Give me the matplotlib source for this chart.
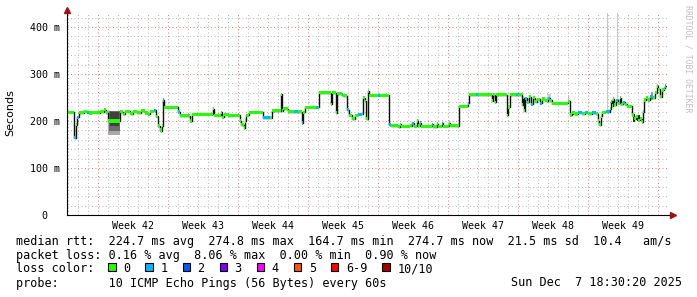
import numpy as np
import matplotlib
matplotlib.use('Agg')
import matplotlib.pyplot as plt
from matplotlib.patches import Rectangle

plt.rcParams['font.family'] = ['DejaVu Sans Mono']

W, H = 697, 297

# median rtt (ms), time in days since the left edge of the graph (60 days shown)
t_days = [0.0, 0.7, 0.9, 1.0, 1.2, 1.7, 2.0, 2.2, 2.5, 2.9, 3.3, 3.7, 3.9, 4.1, 5.3, 5.6, 5.8, 6.3,
          6.6, 7.0, 7.4, 7.8, 8.1, 8.3, 8.7, 8.9, 9.1, 9.3, 9.4, 9.5, 9.6, 9.7, 11.1, 11.3, 12.3,
          12.5, 14.6, 14.7, 15.4, 15.5, 15.7, 16.1, 16.5, 17.3, 17.4, 17.7, 17.8, 17.9, 18.2, 19.6,
          20.3, 20.5, 21.4, 21.5, 21.6, 22.1, 22.7, 23.1, 23.5, 23.6, 23.8, 24.9, 25.1, 25.2, 26.4,
          26.5, 26.9, 27.0, 27.5, 27.6, 28.0, 28.2, 28.5, 28.8, 29.1, 29.5, 29.6, 29.8, 29.9, 30.1,
          30.2, 31.1, 31.3, 32.2, 32.4, 33.1, 33.3, 33.4, 34.3, 34.5, 34.7, 35.0, 35.1, 35.3, 35.4,
          36.5, 36.6, 37.0, 37.1, 37.5, 37.6, 38.2, 38.3, 39.2, 40.1, 40.2, 40.9, 41.1, 42.5, 42.6,
          42.8, 42.9, 44.0, 44.1, 44.3, 44.9, 45.1, 45.5, 45.6, 45.7, 45.8, 46.0, 46.2, 46.4, 46.6,
          46.8, 47.0, 47.3, 47.5, 47.8, 48.1, 48.3, 48.5, 50.1, 50.3, 50.5, 50.8, 51.1, 51.5, 51.8,
          52.1, 52.5, 52.9, 53.1, 53.2, 53.4, 53.5, 53.9, 54.3, 54.4, 54.5, 54.6, 54.7, 54.9, 55.1,
          55.3, 55.4, 55.6, 55.8, 56.0, 56.5, 56.7, 56.9, 57.1, 57.3, 57.5, 57.6, 57.7, 57.9, 58.1,
          58.3, 58.6, 58.8, 59.0, 59.1, 59.3, 59.5, 59.7, 59.8]
median_ms = [219, 164.7, 192, 208, 218, 221, 219, 217, 219, 218, 220, 224, 218, 200, 220, 214, 221, 216,
             221, 218, 222, 217, 214, 221, 223, 210, 190, 181, 179, 190, 245, 229, 220, 211, 200,
             214, 226, 212, 219, 208, 214, 211, 212, 200, 192, 185, 200, 212, 219, 207,
             207, 222, 257, 222, 226, 220, 220, 220, 196, 219, 229, 229, 229, 260, 236,
             260, 218, 258, 256, 254, 224, 212, 205, 212, 214, 216, 250, 242, 205, 263,
             255, 255, 255, 192, 190, 188, 193, 189, 190, 195, 189, 200, 190, 196, 189,
             193, 188, 194, 189, 195, 189, 196, 190, 231, 238, 256, 256, 256, 243, 256,
             240, 256, 212, 230, 256, 256, 256, 235, 250, 222, 248, 240, 252, 236, 250,
             241, 246, 238, 247, 243, 248, 244, 238, 242, 213, 218, 215, 219, 216, 219,
             216, 218, 216, 200, 192, 210, 219, 220, 226, 242, 232, 247, 235, 244, 238,
             250, 236, 240, 236, 231, 213, 205, 210, 202, 205, 198, 220, 245, 250, 245,
             252, 250, 260, 274.8, 268, 252, 266, 270, 274.7]
loss = [0, 1, 0, 1, 0, 0, 1, 0, 0, 0, 0, 0, 0, 0, 0, 0, 0, 0,
        0, 0, 0, 0, 0, 0, 1, 0, 0, 0, 0, 0, 1, 0, 1, 0, 0,
        0, 0, 0, 0, 0, 0, 0, 0, 0, 0, 0, 0, 0, 0, 1,
        0, 0, 0, 0, 0, 0, 1, 0, 1, 0, 0, 1, 0, 0, 0,
        0, 0, 0, 1, 0, 1, 0, 0, 0, 1, 0, 0, 0, 0, 0,
        0, 1, 0, 1, 0, 0, 0, 0, 0, 1, 0, 0, 0, 1, 0,
        1, 0, 0, 0, 1, 0, 0, 0, 0, 1, 0, 1, 0, 0, 0,
        0, 0, 0, 0, 0, 1, 0, 0, 0, 0, 1, 0, 0, 1, 0,
        0, 0, 1, 0, 0, 1, 0, 0, 0, 0, 0, 0, 1, 0, 1,
        0, 1, 0, 0, 0, 0, 0, 1, 0, 0, 0, 0, 0, 1, 0,
        0, 0, 1, 0, 0, 0, 0, 0, 0, 0, 0, 0, 0, 0, 0,
        1, 0, 0, 0, 0, 0, 0, 0, 1]
t_end = 59.9

# smoke (spread of the pings), grey shade per band
smoke_t0 = [4.1, 4.15, 4.25, 54.0, 55.0, 30.1, 31.1, 35.1, 37.5, 45.5, 48.0, 50.1, 50.5, 56.6, 57.0, 58.4]
smoke_t1 = [5.3, 5.25, 5.15, 54.1, 55.1, 30.2, 31.2, 35.2, 37.6, 45.6, 48.4, 50.2, 50.7, 56.8, 57.3, 58.6]
smoke_lo = [170, 178, 190, 220, 238, 255, 255, 190, 189, 235, 238, 242, 213, 198, 200, 245]
smoke_hi = [222, 221, 219, 430, 430, 270, 264, 205, 202, 262, 258, 255, 222, 215, 212, 262]
smoke_grey = ['#a8a8a8', '#6c6c6c', '#404040', '#c8c8c8', '#c8c8c8', '#c0c0c0', '#c8c8c8',
              '#c0c0c0', '#c0c0c0', '#b8b8b8', '#d0d0d0', '#c0c0c0', '#505050', '#303030', '#303030',
              '#a0a0a0']

weeks = [42, 43, 44, 45, 46, 47, 48, 49]
first_week_start = 3.1  # day of the first week boundary

loss_labels = ['0', '1', '2', '3', '4', '5', '6-9', '10/10']
loss_colors = ['#26ff00', '#00b8ff', '#0059ff', '#7e00ff', '#ff00ff', '#ff5500', '#ff0000', '#a10000']

legend_lines = [
    'median rtt:  224.7 ms avg  274.8 ms max  164.7 ms min  274.7 ms now  21.5 ms sd  10.4   am/s',
    'packet loss: 0.16 % avg  8.06 % max  0.00 % min  0.90 % now',
    'loss color:',
    'probe:       10 ICMP Echo Pings (56 Bytes) every 60s',
]
stamp = 'Sun Dec  7 18:30:20 2025'


def fx(px):
    return px / W


def fy(py):
    return 1 - py / H


fig = plt.figure(figsize=(W / 100, H / 100), dpi=100)
fig.patch.set_facecolor('white')
ax = fig.add_axes([fx(67), fy(215), 600 / W, 202 / H])
ax.set_xlim(0, 60)
ax.set_ylim(0, 430)
for s in ax.spines.values():
    s.set_visible(False)

# grid (dotted, minor grey / major red)
dot = (0, (1, 2.5))
week_edges = [first_week_start + 7 * k for k in range(len(weeks) + 1)]
for d in np.arange(0.1, 60, 1.0):
    if min(abs(d - e) for e in week_edges) > 0.05:
        ax.axvline(d, color='#bcbcbc', lw=0.72, ls=dot, zorder=0)
for v in range(20, 430, 20):
    if v % 100:
        ax.axhline(v, color='#bcbcbc', lw=0.72, ls=dot, zorder=0)
for e in week_edges:
    ax.axvline(e, color='#e48080', lw=0.72, ls=dot, zorder=1)
for v in range(100, 430, 100):
    ax.axhline(v, color='#e48080', lw=0.72, ls=dot, zorder=1)

# smoke
for a, b, lo, hi, g in zip(smoke_t0, smoke_t1, smoke_lo, smoke_hi, smoke_grey):
    ax.fill_between([a, b], lo, hi, color=g, lw=0, zorder=2)

# median
edges = np.array(t_days + [t_end])
med = np.array(median_ms)
med_ext = np.append(med, med[-1])
ax.plot(edges, med_ext, drawstyle='steps-post', color='#101010', lw=1.0, zorder=3)
ax.fill_between(edges, med_ext - 3.4, med_ext + 3.4, step='post', color=loss_colors[0], lw=0, zorder=4)
for i, l in enumerate(loss):
    if l > 0:
        ax.fill_between([edges[i], edges[i + 1]], med[i] - 3.4, med[i] + 3.4,
                        color=loss_colors[l], lw=0, zorder=5)

# axes with arrows
ax.plot([0, 60.5], [0, 0], color='black', lw=0.8, clip_on=False, zorder=6)
ax.plot([0, 0], [0, 434], color='black', lw=0.8, clip_on=False, zorder=6)
ax.plot(60.6, 0, marker='>', ms=4, color='#a01010', clip_on=False, zorder=7)
ax.plot(0, 436, marker='^', ms=4, color='#a01010', clip_on=False, zorder=7)

ax.set_xticks([e + 3.5 for e in week_edges[:-1]])
ax.set_xticklabels(['Week %d' % w for w in weeks], fontsize=7.2)
ax.set_yticks([0, 100, 200, 300, 400])
ax.set_yticklabels(['0  ', '100 m', '200 m', '300 m', '400 m'], fontsize=7.2)
ax.tick_params(axis='x', length=0, pad=4)
ax.tick_params(axis='y', length=0, pad=5)

fig.text(fx(10), fy(113), 'Seconds', rotation=90, ha='center', va='center', fontsize=8,
         family='DejaVu Sans')
fig.text(fx(688), fy(59), 'RRDTOOL / TOBI OETIKER', rotation=270, ha='center', va='center',
         fontsize=5.9, color='#c0c0c0')

rows = [241, 255, 269, 283]
for txt, r in zip(legend_lines, rows):
    fig.text(fx(16), fy(r), txt, ha='left', va='center', fontsize=8.5)
fig.text(fx(682), fy(283), stamp, ha='right', va='center', fontsize=8.5)

# loss colour legend boxes
x = 108.3
for lab, col in zip(loss_labels, loss_colors):
    fig.patches.append(Rectangle((fx(x), fy(270.5)), 7.5 / W, 7.5 / H, transform=fig.transFigure,
                                 facecolor=col, edgecolor='black', lw=0.8))
    fig.text(fx(x + 15), fy(269), lab, ha='left', va='center', fontsize=8.5)
    x += 15 + 7.1 * len(lab) + 15

fig.savefig('out.png', dpi=100, facecolor='white')
